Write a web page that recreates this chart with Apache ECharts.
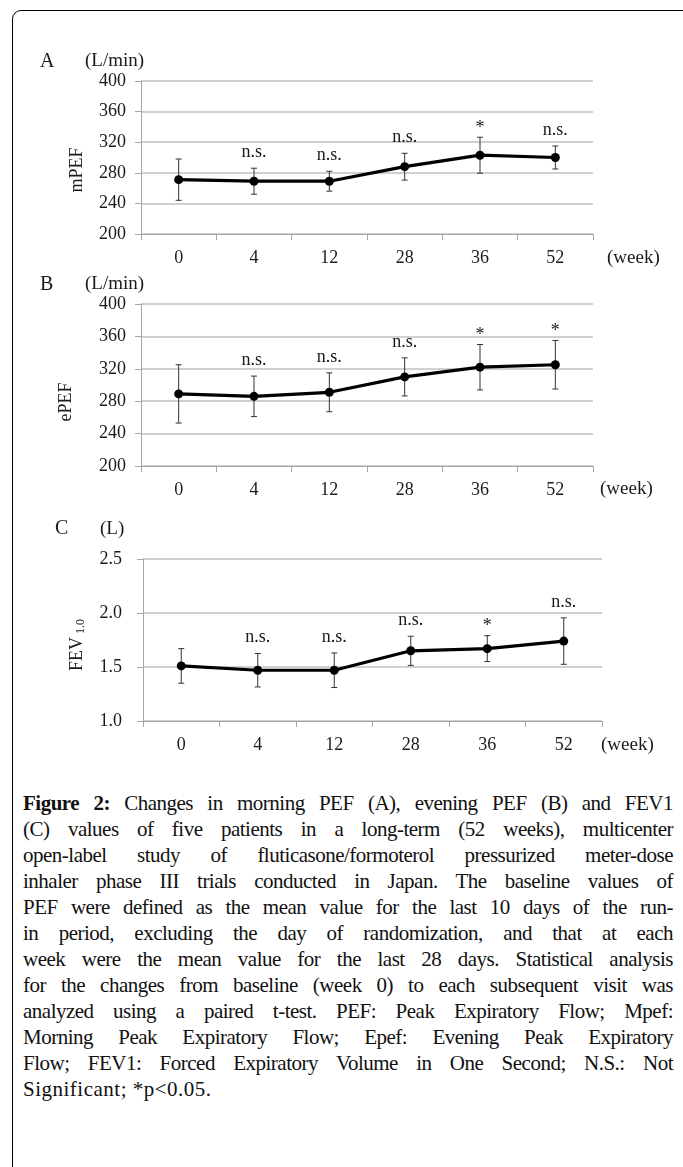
<!DOCTYPE html>
<html>
<head>
<meta charset="utf-8">
<script src="https://cdn.jsdelivr.net/npm/echarts@6/dist/echarts.min.js"></script>
<style>
  html, body { margin: 0; padding: 0; background: #fff; overflow: hidden; width: 683px; height: 1167px; }
  #frame { position: absolute; left: 12px; top: 10px; width: 700px; height: 1300px; border: 1px solid #000; border-radius: 9px; box-sizing: border-box; }
  #chart { position: absolute; left: 0; top: 0; width: 683px; height: 780px; }
  #caption { position: absolute; left: 23px; top: 790px; width: 650px; font-family: "Liberation Serif", serif; font-size: 21px; line-height: 26px; color: #111; letter-spacing: 0.5px; }
  #caption div { text-align: justify; text-align-last: justify; }
  #caption div.last { text-align-last: left; }
</style>
</head>
<body>
<div id="frame"></div>
<div id="chart"></div>
<div id="caption">
  <div><b>Figure 2:</b> Changes in morning PEF (A), evening PEF (B) and FEV1</div>
  <div>(C) values of five patients in a long-term (52 weeks), multicenter</div>
  <div>open-label study of fluticasone/formoterol pressurized meter-dose</div>
  <div>inhaler phase III trials conducted in Japan. The baseline values of</div>
  <div>PEF were defined as the mean value for the last 10 days of the run-</div>
  <div>in period, excluding the day of randomization, and that at each</div>
  <div>week were the mean value for the last 28 days. Statistical analysis</div>
  <div>for the changes from baseline (week 0) to each subsequent visit was</div>
  <div>analyzed using a paired t-test. PEF: Peak Expiratory Flow; Mpef:</div>
  <div>Morning Peak Expiratory Flow; Epef: Evening Peak Expiratory</div>
  <div>Flow; FEV1: Forced Expiratory Volume in One Second; N.S.: Not</div>
  <div class="last">Significant; *p&lt;0.05.</div>
</div>
<script>
// keep each caption line on one line: shrink letter-spacing if a line would overflow
(function () {
  const lines = document.querySelectorAll('#caption div');
  lines.forEach(function (d) {
    const probe = document.createElement('span');
    probe.style.whiteSpace = 'nowrap';
    probe.innerHTML = d.innerHTML;
    d.innerHTML = '';
    d.appendChild(probe);
    let ls = 0.5;
    while (probe.getBoundingClientRect().width > 648 && ls > -0.5) {
      ls -= 0.1;
      d.style.letterSpacing = ls.toFixed(1) + 'px';
    }
    d.innerHTML = probe.innerHTML;
  });
})();

// ---- data ----
const weeks = ['0', '4', '12', '28', '36', '52'];
const mPEF = [271, 269, 269, 288, 303, 300];
const mPEFsd = [27, 17, 13, 17.5, 23.5, 15];
const mPEFsig = ['', 'n.s.', 'n.s.', 'n.s.', '*', 'n.s.'];
const ePEF = [289, 286, 291, 310, 322, 325];
const ePEFsd = [36, 25, 24, 23.5, 28, 30];
const ePEFsig = ['', 'n.s.', 'n.s.', 'n.s.', '*', '*'];
const fev = [1.51, 1.47, 1.47, 1.65, 1.67, 1.74];
const fevSd = [0.16, 0.155, 0.16, 0.135, 0.12, 0.215];
const fevSig = ['', 'n.s.', 'n.s.', 'n.s.', '*', 'n.s.'];
const pefTicks = { min: 200, max: 400, interval: 40 };
const fevTicks = { min: 1.0, max: 2.5, interval: 0.5 };

const FONT = 'Liberation Serif';
const FS = 18;
const TXT = '#1a1a1a';
const GRID = '#c0c0c0';

const chart = echarts.init(document.getElementById('chart'), null, { renderer: 'canvas' });

function errSeries(idx, vals, sds, sigs) {
  return {
    type: 'custom',
    xAxisIndex: idx, yAxisIndex: idx,
    data: vals.map((v, i) => [i, v, sds[i]]),
    z: 3,
    renderItem: function (params, api) {
      const x = api.value(0), v = api.value(1), s = api.value(2);
      const top = api.coord([x, v + s]);
      const bot = api.coord([x, v - s]);
      const cw = 3;
      const st = { stroke: '#333', lineWidth: 1 };
      const children = [
        { type: 'line', shape: { x1: top[0], y1: top[1], x2: bot[0], y2: bot[1] }, style: st },
        { type: 'line', shape: { x1: top[0] - cw, y1: top[1], x2: top[0] + cw, y2: top[1] }, style: st },
        { type: 'line', shape: { x1: bot[0] - cw, y1: bot[1], x2: bot[0] + cw, y2: bot[1] }, style: st }
      ];
      const lab = sigs[params.dataIndex];
      if (lab) {
        children.push({
          type: 'text',
          style: {
            text: lab, x: top[0], y: top[1] - (lab === '*' ? 0 : 7),
            align: 'center', verticalAlign: 'bottom',
            font: FS + 'px "' + FONT + '"', fill: TXT
          }
        });
      }
      return { type: 'group', children: children };
    }
  };
}

function lineSeries(idx, vals) {
  return {
    type: 'line', xAxisIndex: idx, yAxisIndex: idx, data: vals,
    symbol: 'circle', symbolSize: 9, z: 4,
    lineStyle: { color: '#000', width: 3.2 },
    itemStyle: { color: '#000' },
    emphasis: { disabled: true }
  };
}

function xAxis(idx, margin) {
  return {
    type: 'category', gridIndex: idx, data: weeks, boundaryGap: true,
    axisLine: { show: true, lineStyle: { color: '#a6a6a6', width: 1 } },
    axisTick: { show: true, length: 6, lineStyle: { color: '#a6a6a6' } },
    axisLabel: { color: TXT, fontFamily: FONT, fontSize: FS, margin: margin },
    splitLine: { show: false }
  };
}

function yAxis(idx, t, margin, fmt) {
  return {
    type: 'value', gridIndex: idx, min: t.min, max: t.max, interval: t.interval,
    axisLine: { show: true, lineStyle: { color: '#a6a6a6', width: 1 } },
    axisTick: { show: true, length: 6, lineStyle: { color: '#a6a6a6' } },
    axisLabel: { color: TXT, fontFamily: FONT, fontSize: FS, margin: margin, formatter: fmt },
    splitLine: { show: true, lineStyle: { color: GRID, width: 1.5 } }
  };
}

function txt(text, x, y, size, extra) {
  return Object.assign({
    type: 'text', x: x, y: y,
    style: { text: text, font: size + 'px "' + FONT + '"', fill: TXT, align: 'left', verticalAlign: 'middle' }
  }, extra || {});
}

function vtxt(text, x, y, rich) {
  return { type: 'text', x: x, y: y, rotation: Math.PI / 2,
    style: { text: text, font: FS + 'px "' + FONT + '"', fill: TXT, align: 'center', verticalAlign: 'middle', rich: rich } };
}

const option = {
  animation: false,
  backgroundColor: 'transparent',
  grid: [
    { left: 141, right: 90, top: 81, height: 153 },
    { left: 141, right: 90, top: 304, height: 162 },
    { left: 143, right: 81, top: 559, height: 162 }
  ],
  xAxis: [xAxis(0, 15), xAxis(1, 15), xAxis(2, 15)],
  yAxis: [
    yAxis(0, pefTicks, 15, v => String(v)),
    yAxis(1, pefTicks, 15, v => String(v)),
    yAxis(2, fevTicks, 21, v => v.toFixed(1))
  ],
  series: [
    errSeries(0, mPEF, mPEFsd, mPEFsig), lineSeries(0, mPEF),
    errSeries(1, ePEF, ePEFsd, ePEFsig), lineSeries(1, ePEF),
    errSeries(2, fev, fevSd, fevSig), lineSeries(2, fev)
  ],
  graphic: [
    txt('A', 40, 62, 20),
    txt('(L/min)', 85, 61, 19),
    txt('(week)', 607, 258, 19),
    vtxt('mPEF', 77, 170),

    txt('B', 40, 285, 20),
    txt('(L/min)', 85, 284, 19),
    txt('(week)', 600, 489, 19),
    vtxt('ePEF', 66, 402),

    txt('C', 55, 529, 20),
    txt('(L)', 100, 529, 19),
    txt('(week)', 601, 745, 19),
    vtxt('FEV{s|1.0}', 77, 645,
      { s: { fontSize: 12, fontFamily: FONT, fill: TXT, padding: [7, 0, 0, 3] } })
  ]
};
chart.setOption(option);
</script>
</body>
</html>
